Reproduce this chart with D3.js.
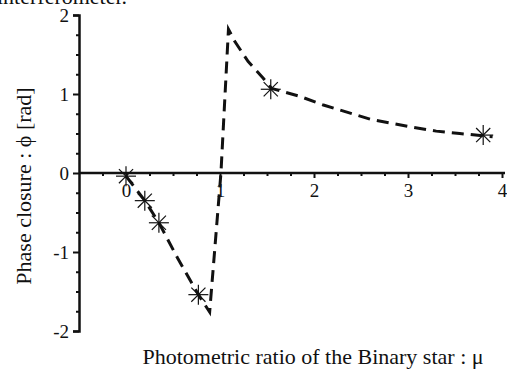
<!DOCTYPE html>
<html><head><meta charset="utf-8">
<script src="https://cdn.jsdelivr.net/npm/d3@7/dist/d3.min.js"></script>
<style>
html,body{margin:0;padding:0;background:#fff;}
svg{display:block;font-family:"Liberation Serif","Times New Roman",serif;}
</style></head>
<body>
<svg id="c" width="507" height="372"></svg>
<script>
// Measured stars
const starMu  = [0.0, 0.20, 0.35, 0.77, 1.54, 3.80];
const starPhi = [-0.04, -0.35, -0.63, -1.54, 1.06, 0.48];
// Dashed model curve
const curveMu  = [0.0, 0.20, 0.35, 0.55, 0.77, 0.89, 1.01, 1.09, 1.16, 1.30, 1.46, 1.55, 1.70, 1.85, 2.10, 2.35, 2.60, 3.00, 3.30, 3.55, 3.80, 3.90];
const curvePhi = [-0.04, -0.35, -0.63, -1.08, -1.54, -1.76, 0.0, 1.82, 1.66, 1.41, 1.20, 1.07, 1.02, 0.97, 0.86, 0.77, 0.68, 0.59, 0.53, 0.50, 0.47, 0.46];
const xMajor = [0, 1, 2, 3, 4];
const yMajor = [-2, -1, 0, 1, 2];
const xMinor = d3.range(-0.25, 4.01, 0.25).filter(v => Math.abs(v - Math.round(v)) > 1e-6);
const yMinor = d3.range(-1.75, 1.8, 0.25).filter(v => Math.abs(v - Math.round(v)) > 1e-6);

const svg = d3.select("#c");
const x = d3.scaleLinear().domain([-0.5, 4]).range([79, 502]);
const y = d3.scaleLinear().domain([-2, 2]).range([331, 15]);

// cut-off caption text at top
svg.append("text").attr("x", -3).attr("y", 4).attr("font-size", 22).attr("fill", "#111").text("interferometer.");

// Y axis
const yAxis = svg.append("g").attr("transform", `translate(${x(-0.5)},0)`)
  .call(d3.axisLeft(y).tickValues(yMajor).tickSize(6).tickPadding(4).tickFormat(d => String(d)));
yAxis.select(".domain").attr("stroke", "#111").attr("stroke-width", 2.5);
yAxis.selectAll(".tick line").attr("stroke", "#111").attr("stroke-width", 2);
yAxis.selectAll(".tick text").attr("font-size", 19).attr("font-family", "Liberation Serif").attr("fill", "#111");
const yMin = svg.append("g").attr("transform", `translate(${x(-0.5)},0)`)
  .call(d3.axisLeft(y).tickValues(yMinor).tickSize(3).tickFormat(""));
yMin.select(".domain").remove();
yMin.selectAll(".tick line").attr("stroke", "#111").attr("stroke-width", 2);

// X axis at phi = 0
const xAxis = svg.append("g").attr("transform", `translate(0,${y(0)})`)
  .call(d3.axisBottom(x).tickValues(xMajor).tickSize(5).tickPadding(6).tickFormat(d => String(d)));
xAxis.select(".domain").remove();
xAxis.selectAll(".tick line").attr("stroke", "#111").attr("stroke-width", 2);
xAxis.selectAll(".tick text").attr("font-size", 19).attr("font-family", "Liberation Serif").attr("fill", "#111");
const xMin = svg.append("g").attr("transform", `translate(0,${y(0)})`)
  .call(d3.axisBottom(x).tickValues(xMinor).tickSize(3).tickFormat(""));
xMin.select(".domain").remove();
xMin.selectAll(".tick line").attr("stroke", "#111").attr("stroke-width", 2);
svg.append("line").attr("x1", x(-0.5)).attr("x2", 505).attr("y1", y(0)).attr("y2", y(0))
  .attr("stroke", "#111").attr("stroke-width", 2.5);

// Dashed curve
const pts = curveMu.map((m, i) => [m, curvePhi[i]]);
svg.append("path").datum(pts)
  .attr("d", d3.line().x(d => x(d[0])).y(d => y(d[1])).curve(d3.curveLinear))
  .attr("fill", "none").attr("stroke", "#111").attr("stroke-width", 3)
  .attr("stroke-dasharray", "12,7");

// Star markers
const r = 10;
const star = svg.append("g").selectAll("g").data(starMu.map((m, i) => [m, starPhi[i]])).join("g")
  .attr("transform", d => `translate(${x(d[0])},${y(d[1])})`);
[0, 45, 90, 135].forEach(a => {
  const rad = a * Math.PI / 180;
  star.append("line")
    .attr("x1", -r * Math.cos(rad)).attr("y1", -r * Math.sin(rad))
    .attr("x2", r * Math.cos(rad)).attr("y2", r * Math.sin(rad))
    .attr("stroke", "#111").attr("stroke-width", 1.2);
});

// Axis titles
svg.append("text").attr("x", 313).attr("y", 364).attr("text-anchor", "middle")
  .attr("font-size", 22).attr("fill", "#111").text("Photometric ratio of the Binary star : \u03bc");
svg.append("text").attr("transform", "translate(31,186) rotate(-90)").attr("text-anchor", "middle")
  .attr("font-size", 22).attr("fill", "#111").text("Phase closure : \u03d5 [rad]");
</script>
</body></html>
